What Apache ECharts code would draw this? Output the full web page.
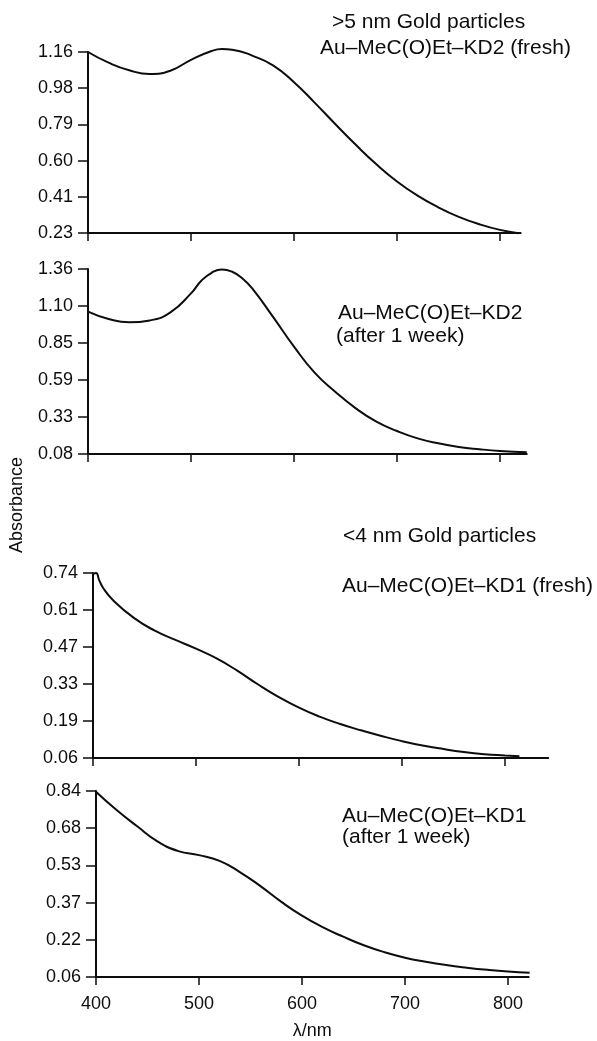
<!DOCTYPE html>
<html>
<head>
<meta charset="utf-8">
<title>Absorbance spectra</title>
<script src="https://cdn.jsdelivr.net/npm/echarts@6/dist/echarts.min.js"></script>
<style>
  html, body { margin: 0; padding: 0; background: #fff; }
  #main { width: 597px; height: 1041px; }
</style>
</head>
<body>
<div id="main"></div>
<script>
// wavelengths (nm) and absorbance
var wl1 = [400, 420, 440, 460, 480, 500, 520, 530, 540, 560, 580, 600, 620, 640, 660, 680, 700, 720, 740, 760, 780, 800, 818];
var abs1 = [1.16, 1.105, 1.066, 1.047, 1.064, 1.12, 1.165, 1.175, 1.172, 1.14, 1.09, 1.005, 0.9, 0.79, 0.683, 0.583, 0.495, 0.422, 0.362, 0.313, 0.275, 0.246, 0.229];

var wl2 = [400, 420, 440, 460, 480, 500, 510, 520, 530, 540, 550, 560, 580, 600, 620, 640, 660, 680, 700, 720, 740, 760, 780, 800, 826];
var abs2 = [1.065, 1.014, 0.991, 1.004, 1.06, 1.191, 1.279, 1.334, 1.357, 1.341, 1.295, 1.221, 1.025, 0.823, 0.643, 0.511, 0.396, 0.304, 0.239, 0.188, 0.154, 0.129, 0.113, 0.101, 0.092];

var wl3 = [400, 403, 406, 410, 420, 440, 460, 480, 500, 520, 540, 560, 580, 600, 620, 640, 660, 680, 700, 720, 740, 760, 780, 800, 814];
var abs3 = [0.736, 0.74, 0.714, 0.684, 0.638, 0.574, 0.528, 0.494, 0.462, 0.426, 0.381, 0.331, 0.285, 0.245, 0.212, 0.185, 0.162, 0.141, 0.122, 0.106, 0.093, 0.082, 0.074, 0.069, 0.066];

var wl4 = [400, 420, 440, 460, 480, 500, 520, 540, 560, 580, 600, 620, 640, 660, 680, 700, 720, 740, 760, 780, 800, 821];
var abs4 = [0.837, 0.76, 0.692, 0.628, 0.588, 0.571, 0.547, 0.499, 0.44, 0.375, 0.317, 0.269, 0.229, 0.193, 0.164, 0.141, 0.124, 0.11, 0.099, 0.09, 0.083, 0.078];

// tick labels as printed on each y axis (bottom to top)
var yLabels1 = ['0.23', '0.41', '0.60', '0.79', '0.98', '1.16'];
var yLabels2 = ['0.08', '0.33', '0.59', '0.85', '1.10', '1.36'];
var yLabels3 = ['0.06', '0.19', '0.33', '0.47', '0.61', '0.74'];
var yLabels4 = ['0.06', '0.22', '0.37', '0.53', '0.68', '0.84'];
var xTicks = [400, 500, 600, 700, 800];
var xEnds = [820, 826, 842, 820];

var panelLabels = [
    ['>5 nm Gold particles', 'Au\u2013MeC(O)Et\u2013KD2 (fresh)'],
    ['Au\u2013MeC(O)Et\u2013KD2', '(after 1 week)'],
    ['<4 nm Gold particles', 'Au\u2013MeC(O)Et\u2013KD1 (fresh)'],
    ['Au\u2013MeC(O)Et\u2013KD1', '(after 1 week)']
];

var FONT = '"Liberation Sans", Arial, Helvetica, sans-serif';
var INK = '#0d0d0d';

var chart = echarts.init(document.getElementById('main'), null, {renderer: 'canvas'});

var wls = [wl1, wl2, wl3, wl4];
var abss = [abs1, abs2, abs3, abs4];
var yLabs = [yLabels1, yLabels2, yLabels3, yLabels4];

// grid boxes in px: left, top, height
var boxes = [
    {left: 88, top: 52, height: 181},
    {left: 88, top: 269, height: 185},
    {left: 93, top: 573, height: 185},
    {left: 96, top: 791, height: 186}
];
var pxPerNm = 1.03;

var grids = [], xAxes = [], yAxes = [], series = [];
for (var i = 0; i < 4; i++) {
    var labs = yLabs[i];
    var yMin = parseFloat(labs[0]);
    var yMax = parseFloat(labs[labs.length - 1]);
    var tv = [];
    for (var k = 0; k < labs.length; k++) {
        var v = yMin + (yMax - yMin) * k / (labs.length - 1);
        tv.push(k === labs.length - 1 ? yMax : Math.round(v * 1e6) / 1e6);
    }
    grids.push({
        left: boxes[i].left,
        top: boxes[i].top,
        height: boxes[i].height,
        width: (xEnds[i] - 400) * pxPerNm
    });
    xAxes.push({
        type: 'value',
        gridIndex: i,
        min: 400,
        max: xEnds[i],
        splitLine: {show: false},
        axisLine: {lineStyle: {color: INK, width: 2}},
        axisTick: {show: true, customValues: xTicks, length: 8, lineStyle: {color: INK, width: 1.5}},
        axisLabel: {
            show: i === 3,
            customValues: xTicks,
            margin: 18,
            color: INK,
            fontSize: 18,
            fontFamily: FONT
        },
        name: i === 3 ? '\u03bb/nm' : '',
        nameLocation: 'middle',
        nameGap: 45,
        nameTextStyle: {color: INK, fontSize: 18, fontFamily: FONT}
    });
    yAxes.push({
        type: 'value',
        gridIndex: i,
        min: yMin,
        max: yMax,
        splitLine: {show: false},
        axisLine: {show: true, lineStyle: {color: INK, width: 2}},
        axisTick: {show: true, customValues: tv, length: 10, lineStyle: {color: INK, width: 1.5}},
        axisLabel: {
            customValues: tv,
            margin: 15,
            color: INK,
            fontSize: 18,
            fontFamily: FONT,
            formatter: (function (labs, tv) {
                return function (v) {
                    for (var j = 0; j < tv.length; j++) {
                        if (Math.abs(tv[j] - v) < 1e-4) return labs[j];
                    }
                    return '';
                };
            })(labs, tv)
        }
    });
    var pts = [];
    for (var m = 0; m < wls[i].length; m++) {
        pts.push([wls[i][m], abss[i][m]]);
    }
    series.push({
        type: 'line',
        xAxisIndex: i,
        yAxisIndex: i,
        data: pts,
        smooth: 0.5,
        showSymbol: false,
        clip: false,
        lineStyle: {color: INK, width: 2}
    });
}

// panel annotations
var textPos = [
    [[332, 12], [320, 38]],
    [[338, 303], [336, 326]],
    [[343, 526], [342, 576]],
    [[342, 806], [342, 827]]
];
var texts = [];
for (var p = 0; p < panelLabels.length; p++) {
    for (var q = 0; q < panelLabels[p].length; q++) {
        texts.push({
            type: 'text',
            x: textPos[p][q][0],
            y: textPos[p][q][1],
            style: {
                text: panelLabels[p][q],
                fill: INK,
                font: '21px ' + FONT,
                textVerticalAlign: 'top'
            }
        });
    }
}
texts.push({
    type: 'text',
    x: 17,
    y: 505,
    rotation: Math.PI / 2,
    style: {
        text: 'Absorbance',
        fill: INK,
        font: '18px ' + FONT,
        textAlign: 'center',
        textVerticalAlign: 'middle'
    }
});

var option = {
    backgroundColor: '#fff',
    animation: false,
    grid: grids,
    xAxis: xAxes,
    yAxis: yAxes,
    series: series,
    graphic: texts
};
chart.setOption(option);
</script>
</body>
</html>
